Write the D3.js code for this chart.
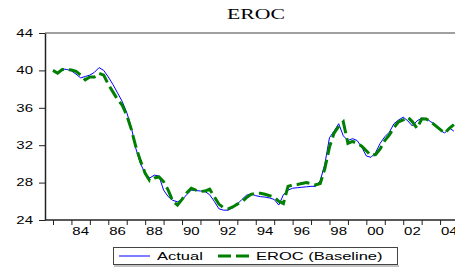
<!DOCTYPE html>
<html>
<head>
<meta charset="utf-8">
<script src="https://cdn.jsdelivr.net/npm/d3@7"></script>
<style>
  body { margin: 0; background: #fff; }
  svg { display: block; }
  .axis text { font-family: "Liberation Sans", Arial, sans-serif; font-size: 10px; fill: #000; }
  .axis path, .axis line { stroke: #222; }
</style>
</head>
<body>
<div id="chart"></div>
<script>
// quarterly, 1983Q1 .. 2004Q4
var startYear = 1983;
var yTicks = [24, 28, 32, 36, 40, 44];
var xLabelYears = [1984, 1986, 1988, 1990, 1992, 1994, 1996, 1998, 2000, 2002, 2004];
var seriesNames = ['Actual', 'EROC (Baseline)'];

var actual = [
  40.0, 39.8, 40.15, 40.1,   39.95, 39.6, 39.2, 39.35,
  39.5, 39.8, 40.3, 40.0,    39.3, 38.5, 37.6, 36.7,
  35.5, 33.9, 31.6, 30.0,    29.0, 28.5, 28.8, 28.7,
  27.2, 26.5, 26.1, 25.95,   26.15, 26.7, 27.2, 27.15,
  27.1, 27.05, 26.7, 26.0,   25.2, 25.05, 25.05, 25.3,
  25.7, 26.2, 26.65, 26.8,   26.6, 26.5, 26.45, 26.35,
  26.2, 25.6, 26.7, 27.2,    27.4, 27.45, 27.5, 27.55,
  27.6, 27.6, 28.2, 30.0,    32.8, 33.5, 34.3, 33.0,
  32.5, 32.7, 32.5, 31.8,    30.85, 30.7, 31.2, 32.2,
  32.9, 33.4, 34.3, 34.7,    35.0, 34.6, 34.05, 34.6,
  34.9, 34.85, 34.5, 34.2,   33.6, 33.3, 33.85, 33.5
];

var baseline = [
  40.0, 39.7, 40.1, 40.1,    40.05, 39.9, 39.5, 39.0,
  39.3, 39.3, 39.7, 39.5,    38.5, 37.7, 36.9, 36.3,
  35.2, 33.7, 31.8, 30.3,    29.0, 28.2, 28.5, 28.6,
  28.1, 27.2, 26.0, 25.6,    26.2, 26.9, 27.4, 27.2,
  27.05, 27.1, 27.3, 26.5,   25.7, 25.3, 25.2, 25.4,
  25.7, 25.95, 26.4, 26.75,  26.85, 26.85, 26.75, 26.6,
  26.45, 26.0, 25.75, 27.6,  27.75, 27.8, 27.9, 28.0,
  27.9, 27.75, 27.9, 29.5,   31.8, 33.3, 34.0, 34.5,
  32.2, 32.4, 32.2, 31.9,    31.4, 30.9, 31.0, 31.6,
  32.5, 33.1, 33.9, 34.5,    34.7, 35.0, 34.5, 33.8,
  34.8, 34.8, 34.5, 34.1,    33.7, 33.3, 33.8, 34.2
];

var W = 455, H = 267;
var stretch = 1.5; // text in the original is drawn wide

var svg = d3.select('#chart').append('svg')
    .attr('width', W)
    .attr('height', H);

var x = d3.scaleLinear().domain([startYear, 2005]).range([53, 458.5]);
var y = d3.scaleLinear().domain([24, 44]).range([220, 33]);
var frameLeft = 45, frameRight = 458;

function period(i) { return startYear + i / 4; }

// title
svg.append('g')
    .attr('transform', 'translate(256,19) scale(1.45,1)')
  .append('text')
    .attr('text-anchor', 'middle')
    .style('font-family', '"Liberation Serif", "Times New Roman", serif')
    .style('font-size', '15px')
    .text('EROC');

// top frame
svg.append('line')
    .attr('x1', frameLeft).attr('x2', frameRight)
    .attr('y1', y(44)).attr('y2', y(44))
    .style('stroke', '#808080')
    .style('stroke-width', 1.5);

// y axis
var yAxis = svg.append('g')
    .attr('class', 'axis')
    .attr('transform', 'translate(' + frameLeft + ',0)')
    .call(d3.axisLeft(y).tickValues(yTicks).tickSize(6).tickSizeOuter(0));
yAxis.select('.domain').style('stroke-width', 1.5);
yAxis.selectAll('text')
    .attr('x', -12 / stretch)
    .attr('transform', 'scale(' + stretch + ',1)');

// x axis: tick at every year start, label at mid-year of even years
var xAxis = svg.append('g')
    .attr('class', 'axis')
    .attr('transform', 'translate(0,' + y(24) + ')')
    .call(d3.axisBottom(x).tickValues(d3.range(startYear, 2006)).tickSize(5).tickFormat(''));
xAxis.select('.domain').remove();
xAxis.append('line')
    .attr('x1', frameLeft).attr('x2', frameRight)
    .style('stroke', '#222')
    .style('stroke-width', 1.5);

xAxis.selectAll('.yearLabel')
    .data(xLabelYears)
  .enter().append('g')
    .attr('class', 'yearLabel')
    .attr('transform', function(d) { return 'translate(' + x(d + 0.5) + ',15) scale(' + stretch + ',1)'; })
  .append('text')
    .attr('text-anchor', 'middle')
    .text(function(d) { return String(d).slice(2); });

// lines
var line = d3.line()
    .x(function(d, i) { return x(period(i)); })
    .y(function(d) { return y(d); });

svg.append('path')
    .datum(actual)
    .attr('d', line)
    .style('fill', 'none')
    .style('stroke', '#0000ff')
    .style('stroke-width', 1);

svg.append('path')
    .datum(baseline)
    .attr('d', line)
    .style('fill', 'none')
    .style('stroke', '#008000')
    .style('stroke-width', 3)
    .style('stroke-dasharray', '13,5');

// legend
var legend = svg.append('g');
legend.append('rect')
    .attr('x', 113.5).attr('y', 247.5)
    .attr('width', 284).attr('height', 17)
    .style('fill', '#fff')
    .style('stroke', '#444')
    .style('stroke-width', 1);
legend.append('line')
    .attr('x1', 114).attr('x2', 399)
    .attr('y1', 266).attr('y2', 266)
    .style('stroke', '#888');

var legendItems = [
  {name: seriesNames[0], x1: 119, x2: 150, tx: 157, color: '#0000ff', w: 1, dash: null},
  {name: seriesNames[1], x1: 218, x2: 251, tx: 256, color: '#008000', w: 3, dash: '13,5'}
];

legendItems.forEach(function(it) {
  legend.append('line')
      .attr('x1', it.x1).attr('x2', it.x2)
      .attr('y1', 256).attr('y2', 256)
      .style('stroke', it.color)
      .style('stroke-width', it.w)
      .style('stroke-dasharray', it.dash);
  legend.append('g')
      .attr('transform', 'translate(' + it.tx + ',260) scale(' + stretch + ',1)')
    .append('text')
      .style('font-family', '"Liberation Sans", Arial, sans-serif')
      .style('font-size', '11px')
      .text(it.name);
});
</script>
</body>
</html>
